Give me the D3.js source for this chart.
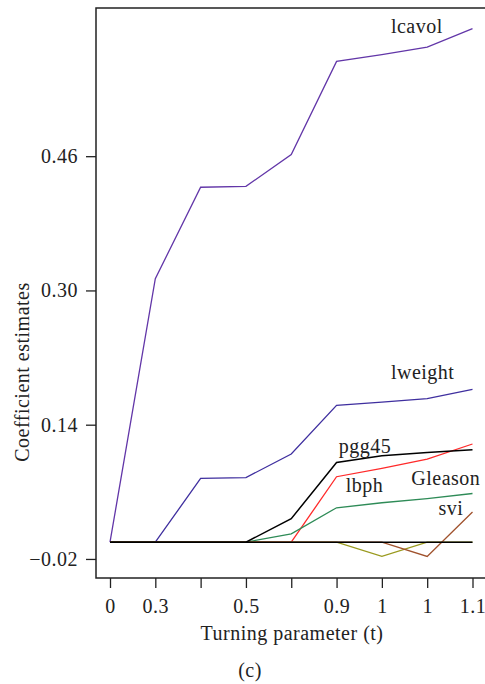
<!DOCTYPE html>
<html>
<head>
<meta charset="utf-8">
<script src="https://cdn.jsdelivr.net/npm/d3@7"></script>
<style>
  body { margin: 0; background: #fff; }
  svg { display: block; }
  text { font-family: "Liberation Serif", "DejaVu Serif", serif; fill: #222; letter-spacing: 0.5px; }
</style>
</head>
<body>
<svg id="chart" width="485" height="684"></svg>
<script>
// tick labels on the x axis (one per step of t)
var xLabels = ["0", "0.3", "", "0.5", "", "0.9", "1", "1", "1.1"];
var yTicks = [-0.02, 0.14, 0.30, 0.46];

// coefficient paths, one value per step
var lcavol  = [0, 0.314, 0.423, 0.424, 0.462, 0.573, 0.581, 0.590, 0.612];
var lweight = [0, 0, 0.076, 0.077, 0.105, 0.163, 0.167, 0.171, 0.182];
var pgg45   = [0, 0, 0, 0, 0.028, 0.095, 0.103, 0.107, 0.110];
var lbph    = [0, 0, 0, 0, 0, 0.078, 0.088, 0.099, 0.117];
var gleason = [0, 0, 0, 0, 0.010, 0.041, 0.047, 0.052, 0.058];
var svi     = [0, 0, 0, 0, 0, 0, 0, -0.017, 0.036];
var lcp     = [0, 0, 0, 0, 0, 0, -0.017, 0, 0];
var age     = [0, 0, 0, 0, 0, 0, 0, 0, 0];

var series = [
    { name: "lcavol",  values: lcavol,  color: "#6236a8", label: "lcavol" },
    { name: "lweight", values: lweight, color: "#3f2f9f", label: "lweight" },
    { name: "lbph",    values: lbph,    color: "#ff2a2a", label: "lbph" },
    { name: "gleason", values: gleason, color: "#2e8b57", label: "Gleason" },
    { name: "lcp",     values: lcp,     color: "#9a9a1e", label: null },
    { name: "svi",     values: svi,     color: "#a0522d", label: "svi" },
    { name: "pgg45",   values: pgg45,   color: "#000000", label: "pgg45" },
    { name: "age",     values: age,     color: "#000000", label: null }
];

// where each label sits (data coords: step index, value)
var labelPos = {
    lcavol:  [6.2, 0.607],
    lweight: [6.2, 0.1945],
    pgg45:   [5.05, 0.106],
    lbph:    [5.2, 0.060],
    gleason: [6.65, 0.068],
    svi:     [7.25, 0.0324]
};

var svg = d3.select("#chart"),
    margin = { top: 8, left: 96 },
    plotW = 400,
    plotH = 570;

var x = d3.scaleLinear()
    .domain([0, xLabels.length - 1])
    .range([14, 376.5]);

var y = d3.scaleLinear()
    .domain([-0.0427, 0.6366])
    .range([plotH, 0]);

var g = svg.append("g")
    .attr("transform", "translate(" + margin.left + "," + margin.top + ")");

// lines
var line = d3.line()
    .x(function(d, i) { return x(i); })
    .y(function(d) { return y(d); });

g.selectAll(".path")
    .data(series)
    .enter().append("path")
    .attr("class", "path")
    .attr("d", function(d) { return line(d.values); })
    .attr("fill", "none")
    .attr("stroke", function(d) { return d.color; })
    .attr("stroke-width", function(d) { return d.color == "#000000" ? 1.5 : 1.3; });

// labels
g.selectAll(".lab")
    .data(series.filter(function(d) { return d.label; }))
    .enter().append("text")
    .attr("class", "lab")
    .attr("x", function(d) { return x(labelPos[d.name][0]); })
    .attr("y", function(d) { return y(labelPos[d.name][1]); })
    .style("font-size", "20px")
    .text(function(d) { return d.label; });

// frame (right side runs off the picture)
g.append("rect")
    .attr("x", 0)
    .attr("y", 0)
    .attr("width", plotW)
    .attr("height", plotH)
    .attr("fill", "none")
    .attr("stroke", "#222")
    .attr("stroke-width", 1.5);

// axes
var fmt = function(d) {
    var s = d3.format(".2f")(d);
    return s.replace("-", "\u2212");
};

var yAxis = g.append("g")
    .attr("transform", "translate(-10,0)")
    .call(d3.axisLeft(y).tickValues(yTicks).tickFormat(fmt).tickSize(10).tickPadding(8));

var xAxis = g.append("g")
    .attr("transform", "translate(0," + (plotH + 10) + ")")
    .call(d3.axisBottom(x).tickValues(d3.range(xLabels.length))
        .tickFormat(function(i) { return xLabels[i]; }).tickSize(10).tickPadding(8));

[yAxis, xAxis].forEach(function(a) {
    a.select(".domain").remove();
    a.selectAll("text").style("font-size", "20px").attr("fill", "#222");
    a.selectAll("line").attr("stroke", "#222").attr("stroke-width", 1.3);
});
yAxis.selectAll("line").attr("x2", 10);
yAxis.selectAll("text").attr("x", -8);
xAxis.selectAll("line").attr("y1", -10).attr("y2", 0);
xAxis.selectAll("text").attr("y", 11);

// axis titles
svg.append("text")
    .attr("x", 292)
    .attr("y", 640)
    .attr("text-anchor", "middle")
    .style("font-size", "20px")
    .text("Turning parameter (t)");

svg.append("text")
    .attr("transform", "translate(29,372) rotate(-90)")
    .attr("text-anchor", "middle")
    .style("font-size", "20px")
    .text("Coefficient estimates");

svg.append("text")
    .attr("x", 250)
    .attr("y", 677)
    .attr("text-anchor", "middle")
    .style("font-size", "20px")
    .text("(c)");
</script>
</body>
</html>
